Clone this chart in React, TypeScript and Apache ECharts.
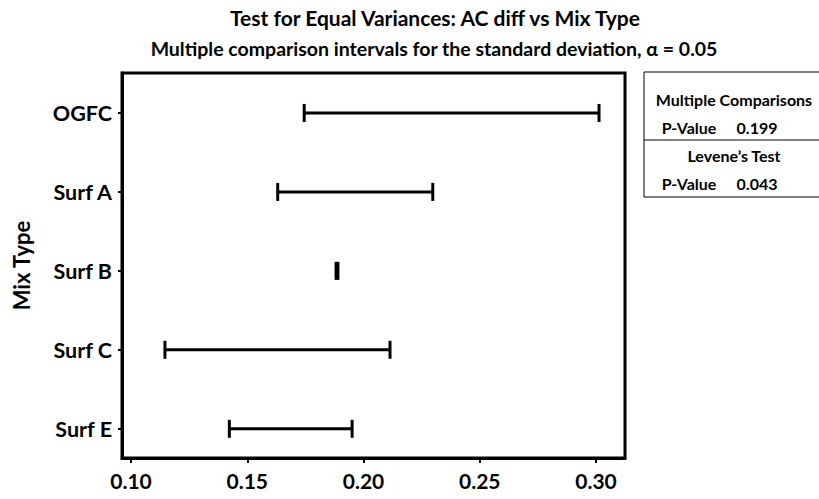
import React, { useEffect, useRef } from "react";
import * as echarts from "echarts";

const categories = ["OGFC", "Surf A", "Surf B", "Surf C", "Surf E"];
const lowerBounds = [0.1745, 0.1631, 0.1882, 0.1146, 0.1423];
const upperBounds = [0.3013, 0.2298, 0.1890, 0.2114, 0.1951];
const xTicks = [0.1, 0.15, 0.2, 0.25, 0.3];
const tableHeaders = ["Multiple Comparisons", "Levene\u2019s Test"];
const tableLabels = ["P-Value", "P-Value"];
const tableValues = ["0.199", "0.043"];

const FONT = "Lato, 'Open Sans', sans-serif";

export default function App() {
  const ref = useRef<HTMLDivElement>(null);
  useEffect(() => {
    if (!ref.current) return;
    const chart = echarts.init(ref.current, undefined, { renderer: "svg" });
    const data = categories.map((c, i) => [i, lowerBounds[i], upperBounds[i]]);
    const tfont = `bold 16px ${FONT}`;
    const graphics: any[] = [
      {
        type: "rect",
        shape: { x: 644, y: 72, width: 190, height: 125 },
        style: { fill: "#fff", stroke: "#000", lineWidth: 1 },
      },
      {
        type: "line",
        shape: { x1: 644, y1: 140, x2: 834, y2: 140 },
        style: { stroke: "#000", lineWidth: 1 },
      },
    ];
    tableHeaders.forEach((h, k) => {
      const base = k * 56;
      graphics.push({
        type: "text",
        x: 734,
        y: 99 + base,
        style: { text: h, font: tfont, fill: "#000", align: "center", verticalAlign: "middle" },
      });
      graphics.push({
        type: "text",
        x: 689,
        y: 127 + base,
        style: { text: tableLabels[k], font: tfont, fill: "#000", align: "center", verticalAlign: "middle" },
      });
      graphics.push({
        type: "text",
        x: 757,
        y: 127 + base,
        style: { text: tableValues[k], font: tfont, fill: "#000", align: "center", verticalAlign: "middle" },
      });
    });
    chart.setOption({
      animation: false,
      backgroundColor: "#fff",
      title: [
        {
          text: "Test for Equal Variances: AC diff vs Mix Type",
          left: 430,
          top: 2,
          textAlign: "center",
          textStyle: { fontFamily: FONT, fontWeight: "bold", fontSize: 21, color: "#000" },
        },
        {
          text: "Multiple comparison intervals for the standard deviation, \u03b1 = 0.05",
          left: 429,
          top: 33,
          textAlign: "center",
          textStyle: { fontFamily: FONT, fontWeight: "bold", fontSize: 19.5, color: "#000" },
        },
      ],
      grid: {
        left: 122,
        top: 73,
        right: 194,
        bottom: 41,
        show: true,
        borderColor: "#000",
        borderWidth: 3,
        backgroundColor: "transparent",
      },
      xAxis: {
        type: "value",
        min: 0.09613,
        max: 0.31247,
        splitLine: { show: false },
        axisLine: { show: true, onZero: false, lineStyle: { color: "#000", width: 3 } },
        axisTick: { show: true, length: 5, customValues: xTicks, lineStyle: { color: "#000", width: 2 } },
        axisLabel: {
          customValues: xTicks,
          formatter: (v: number) => v.toFixed(2),
          color: "#000",
          fontFamily: FONT,
          fontWeight: "bold",
          fontSize: 21,
          margin: 12,
        },
      },
      yAxis: {
        type: "value",
        inverse: true,
        min: -0.506,
        max: 4.37,
        name: "Mix Type",
        nameLocation: "middle",
        nameGap: 90,
        nameRotate: 90,
        nameTextStyle: { fontFamily: FONT, fontWeight: "bold", fontSize: 22, color: "#000" },
        splitLine: { show: false },
        axisLine: { show: true, onZero: false, lineStyle: { color: "#000", width: 3 } },
        axisTick: { show: true, length: 4, customValues: [0, 1, 2, 3, 4], lineStyle: { color: "#000", width: 2 } },
        axisLabel: {
          customValues: [0, 1, 2, 3, 4],
          formatter: (v: number) => categories[Math.round(v)] ?? "",
          color: "#000",
          fontFamily: FONT,
          fontWeight: "bold",
          fontSize: 21.5,
          margin: 10,
        },
      },
      series: [
        {
          type: "custom",
          encode: { x: [1, 2], y: 0 },
          data,
          renderItem: (params: any, api: any) => {
            const y = api.value(0);
            const lo = api.value(1);
            const hi = api.value(2);
            const p1 = api.coord([lo, y]);
            const p2 = api.coord([hi, y]);
            const h = 9;
            const st = { stroke: "#000", lineWidth: 3 };
            return {
              type: "group",
              children: [
                { type: "line", shape: { x1: p1[0], y1: p1[1], x2: p2[0], y2: p2[1] }, style: st },
                { type: "line", shape: { x1: p1[0], y1: p1[1] - h, x2: p1[0], y2: p1[1] + h }, style: st },
                { type: "line", shape: { x1: p2[0], y1: p2[1] - h, x2: p2[0], y2: p2[1] + h }, style: st },
              ],
            };
          },
        },
      ],
      graphic: graphics,
    });
    return () => chart.dispose();
  }, []);
  return (
    <div
      ref={ref}
      style={{ position: "absolute", left: 0, top: 0, width: 819, height: 499 }}
    />
  );
}
